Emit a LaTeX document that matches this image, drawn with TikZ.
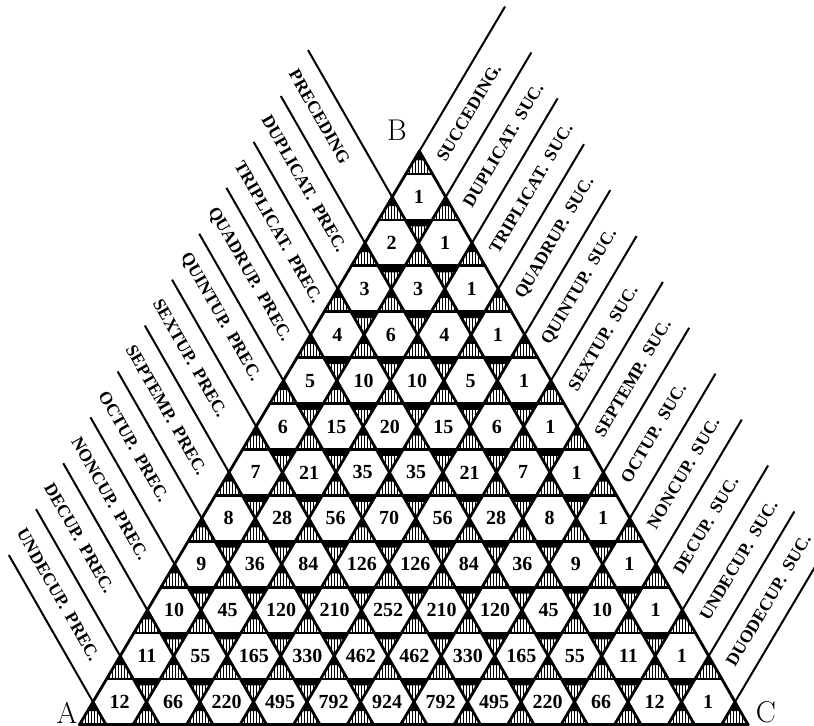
\documentclass[tikz,border=0pt]{standalone}
\usepackage{fontspec}
\newfontfamily\numfont{Liberation Serif}
\usetikzlibrary{patterns}

\pgfdeclarepatternformonly{vhatch}{\pgfqpoint{-0.5pt}{-0.5pt}}{\pgfqpoint{2pt}{2pt}}{\pgfqpoint{1.5pt}{1.5pt}}{%
  \pgfsetlinewidth{0.75pt}%
  \pgfpathmoveto{\pgfqpoint{0.75pt}{-0.5pt}}%
  \pgfpathlineto{\pgfqpoint{0.75pt}{2pt}}%
  \pgfusepath{stroke}%
}

\begin{document}
\begin{tikzpicture}[x=0.5pt,y=-0.5pt,
  grid/.style={line width=1.4pt,line cap=round},
  ext/.style={line width=1pt},
  hatch/.style={pattern=vhatch},
  num/.style={font=\numfont\bfseries\fontsize{10}{12}\selectfont,inner sep=0pt},
  lab/.style={font=\numfont\bfseries\fontsize{8.8}{10}\selectfont,
    execute at begin node={\spaceskip=0.45em\relax},inner sep=0pt,anchor=west},
  corner/.style={font=\fontsize{15}{15}\selectfont,inner sep=0pt}]
  \useasboundingbox (0,0) rectangle (814,725);
  \clip (0,0) rectangle (814,725);

  \begin{scope}[xshift=3.43pt,xslant=0.0098]
    \def\xo{414} \def\yo{197} \def\colw{26.75} \def\rowh{45.9}

    % hatched triangles, dark towards the top
    \fill[hatch] ({\xo},{\yo-\rowh}) -- ({\xo-\colw/2},{\yo-\rowh/2}) -- ({\xo+\colw/2},{\yo-\rowh/2}) -- cycle;
    \fill ({\xo},{\yo-\rowh}) -- ({\xo-0.2*\colw},{\yo-0.8*\rowh}) -- ({\xo+0.2*\colw},{\yo-0.8*\rowh}) -- cycle;
    \foreach \r in {0,...,11}{
      \pgfmathtruncatemacro{\mm}{\r+1}
      \foreach \m in {0,...,\mm}{
        \pgfmathsetmacro{\vx}{\xo-(\r+1)*\colw+2*\m*\colw}
        \pgfmathsetmacro{\vy}{\yo+\r*\rowh}
        \fill[hatch] ({\vx},{\vy}) -- ({\vx-\colw/2},{\vy+\rowh/2}) -- ({\vx+\colw/2},{\vy+\rowh/2}) -- cycle;
        \fill ({\vx},{\vy}) -- ({\vx-0.2*\colw},{\vy+0.2*\rowh}) -- ({\vx+0.2*\colw},{\vy+0.2*\rowh}) -- cycle;
        \ifnum\m>0 \ifnum\m<\mm
          \fill[hatch] ({\vx},{\vy}) -- ({\vx-\colw/2},{\vy-\rowh/2}) -- ({\vx+\colw/2},{\vy-\rowh/2}) -- cycle;
          \fill ({\vx-\colw/2},{\vy-\rowh/2}) -- ({\vx+\colw/2},{\vy-\rowh/2})
            -- ({\vx+0.36*\colw},{\vy-0.36*\rowh}) -- ({\vx-0.36*\colw},{\vy-0.36*\rowh}) -- cycle;
        \fi\fi
      }
    }

    % lattice
    \foreach \k in {0,...,12}
      \draw[grid] ({\xo-(\k+0.5)*\colw},{\yo+(\k-0.5)*\rowh}) -- ({\xo+(\k+0.5)*\colw},{\yo+(\k-0.5)*\rowh});
    \foreach \r in {-1,...,11}{
      \draw[grid] ({\xo-(\r+1)*\colw},{\yo+\r*\rowh}) -- ({\xo+(10.5-2*(\r))*\colw},{\yo+11.5*\rowh});
      \draw[grid] ({\xo+(2*(\r)-10.5)*\colw},{\yo+11.5*\rowh}) -- ({\xo+(\r+1)*\colw},{\yo+\r*\rowh});
      \draw[ext] ({\xo+(\r+1)*\colw},{\yo+\r*\rowh}) -- ({\xo+(\r+4.15)*\colw},{\yo+(\r-3.15)*\rowh});
    }
    \foreach \r in {0,...,11}
      \draw[ext] ({\xo-(\r+4.2)*\colw},{\yo+(\r-3.2)*\rowh}) -- ({\xo-(\r+1)*\colw},{\yo+\r*\rowh});

    % numbers
    \foreach \r/\row in {0/{1},1/{2,1},2/{3,3,1},3/{4,6,4,1},4/{5,10,10,5,1},
        5/{6,15,20,15,6,1},6/{7,21,35,35,21,7,1},7/{8,28,56,70,56,28,8,1},
        8/{9,36,84,126,126,84,36,9,1},9/{10,45,120,210,252,210,120,45,10,1},
        10/{11,55,165,330,462,462,330,165,55,11,1},
        11/{12,66,220,495,792,924,792,495,220,66,12,1}}
      \foreach \v [count=\j from 0] in \row
        \node[num] (h-\r-\j) at ({\xo+(2*\j-\r)*\colw},{\yo+\r*\rowh}) {\v};

    % band names
    \foreach \t [count=\r from 0] in {PRECEDING,DUPLICAT. PREC.,TRIPLICAT. PREC.,
        QUADRUP. PREC.,QUINTUP. PREC.,SEXTUP. PREC.,SEPTEMP. PREC.,OCTUP. PREC.,
        NONCUP. PREC.,DECUP. PREC.,UNDECUP. PREC.}
      \node[lab,rotate=-60.2] (prec-\r) at ({\xo-(\r+4.75)*\colw},{\yo+(\r-2.75)*\rowh}) {\t};
    \foreach \t [count=\r from 0] in {SUCCEDING.,DUPLICAT. SUC.,TRIPLICAT. SUC.,
        QUADRUP. SUC.,QUINTUP. SUC.,SEXTUP. SUC.,SEPTEMP. SUC.,OCTUP. SUC.,
        NONCUP. SUC.,DECUP. SUC.,UNDECUP. SUC.,DUODECUP. SUC.}
      \node[lab,rotate=59.35] (suc-\r) at ({\xo+(\r+0.8)*\colw},{\yo+(\r-0.8)*\rowh}) {\t};
  \end{scope}

  \node[corner] (A) at (67,713) {A};
  \node[corner] (B) at (397,130) {B};
  \node[corner] (C) at (766,712) {C};
\end{tikzpicture}
\end{document}
